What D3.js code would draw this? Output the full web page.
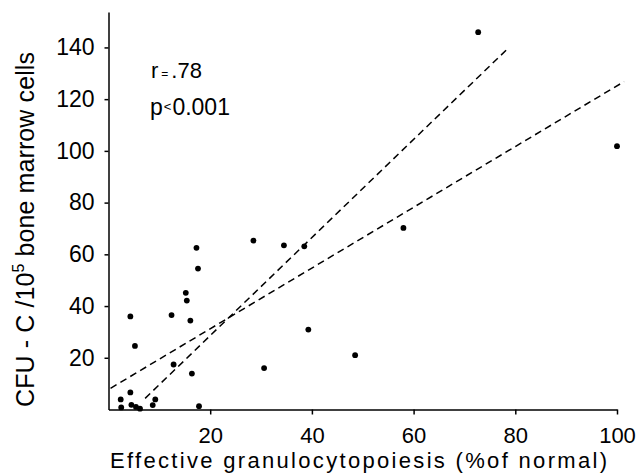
<!DOCTYPE html>
<html>
<head>
<meta charset="utf-8">
<script src="https://cdn.jsdelivr.net/npm/d3@7"></script>
<style>
  body { margin: 0; background: #fff; }
  svg { display: block; font-family: "Liberation Sans", Arial, sans-serif; }
</style>
</head>
<body>
<figure id="scatter" style="margin:0"></figure>
<script>
// effective granulocytopoiesis (% of normal)
const granulo = [72.7, 100, 58.0, 28.5, 34.5, 38.5, 17.3, 17.6, 15.2, 15.4, 12.4, 4.3, 16.1, 5.2,
  39.3, 48.5, 12.8, 30.6, 16.4, 4.3, 2.4, 2.5, 4.5, 5.4, 6.2, 8.7, 9.2, 17.8];
// CFU-C / 10^5 bone marrow cells
const cfuc = [145.9, 101.8, 70.2, 65.3, 63.5, 63.1, 62.5, 54.5, 45.1, 42.1, 36.5, 36.0, 34.4, 24.6,
  30.9, 21.0, 17.4, 16.0, 13.9, 6.6, 3.9, 0.8, 1.8, 1.0, 0.3, 1.7, 3.9, 1.3];

// the two dashed regression lines (end points)
const fitSteepX = [7.2, 78.6];
const fitSteepY = [4.3, 139.7];
const fitFlatX = [0.4, 101.4];
const fitFlatY = [8.2, 126.8];

const xTicks = [20, 40, 60, 80, 100];
const yTicks = [20, 40, 60, 80, 100, 120, 140];

const width = 643, height = 473;
const margin = { left: 108.5, top: 12, right: 26, bottom: 63.5 };

const svg = d3.select("figure#scatter")
  .append("svg")
  .attr("width", width)
  .attr("height", height);

const x = d3.scaleLinear()
  .domain([0, 100])
  .range([margin.left, width - margin.right]);
const y = d3.scaleLinear()
  .domain([0, 153.7])
  .range([height - margin.bottom, margin.top]);

// X axis
const xAxis = svg.append("g")
  .attr("transform", "translate(0," + y(0) + ")")
  .call(d3.axisBottom(x).tickValues(xTicks).tickSize(5).tickSizeOuter(0).tickPadding(13));
xAxis.selectAll("text").style("font-size", "22px").attr("fill", "#000");

// Y axis
const yAxis = svg.append("g")
  .attr("transform", "translate(" + x(0) + ",0)")
  .call(d3.axisLeft(y).tickValues(yTicks).tickSize(4).tickSizeOuter(0).tickPadding(10));
yAxis.selectAll("text").style("font-size", "23px").attr("fill", "#000");

svg.selectAll(".domain, .tick line")
  .attr("stroke", "#000")
  .attr("stroke-width", 1.5);

// dashed lines
const fits = [[fitSteepX, fitSteepY], [fitFlatX, fitFlatY]];
svg.append("g").selectAll("line")
  .data(fits)
  .enter()
  .append("line")
  .attr("x1", d => x(d[0][0]))
  .attr("y1", d => y(d[1][0]))
  .attr("x2", d => x(d[0][1]))
  .attr("y2", d => y(d[1][1]))
  .attr("stroke", "#000")
  .attr("stroke-width", 1.5)
  .attr("stroke-dasharray", "7,4.5");

// dots
svg.append("g").selectAll("circle")
  .data(granulo)
  .enter()
  .append("circle")
  .attr("cx", d => x(d))
  .attr("cy", (d, i) => y(cfuc[i]))
  .attr("r", 2.9)
  .style("fill", "#000");

// stats
const r = svg.append("text").attr("x", 151).attr("y", 78).style("font-size", "22px");
r.append("tspan").text("r");
r.append("tspan").attr("dx", 3).style("font-size", "12px").text("=");
r.append("tspan").attr("dx", 3).text(".78");

const p = svg.append("text").attr("x", 150).attr("y", 115).style("font-size", "23px");
p.append("tspan").text("p");
p.append("tspan").attr("dx", 1).attr("dy", -4).style("font-size", "13px").text("<");
p.append("tspan").attr("dx", 1).attr("dy", 4).text("0.001");

// axis labels
svg.append("text")
  .attr("x", 110)
  .attr("y", 468)
  .attr("textLength", 497)
  .attr("lengthAdjust", "spacing")
  .style("font-size", "22px")
  .text("Effective granulocytopoiesis  (%of normal)");

const yl = svg.append("text")
  .attr("transform", "translate(34,407) rotate(-90)")
  .style("font-size", "25px")
  .attr("textLength", 355)
  .attr("lengthAdjust", "spacing");
yl.append("tspan").text("CFU - C /10");
yl.append("tspan").attr("dy", -10).style("font-size", "16px").text("5");
yl.append("tspan").attr("dy", 10).text(" bone marrow cells");
</script>
</body>
</html>
